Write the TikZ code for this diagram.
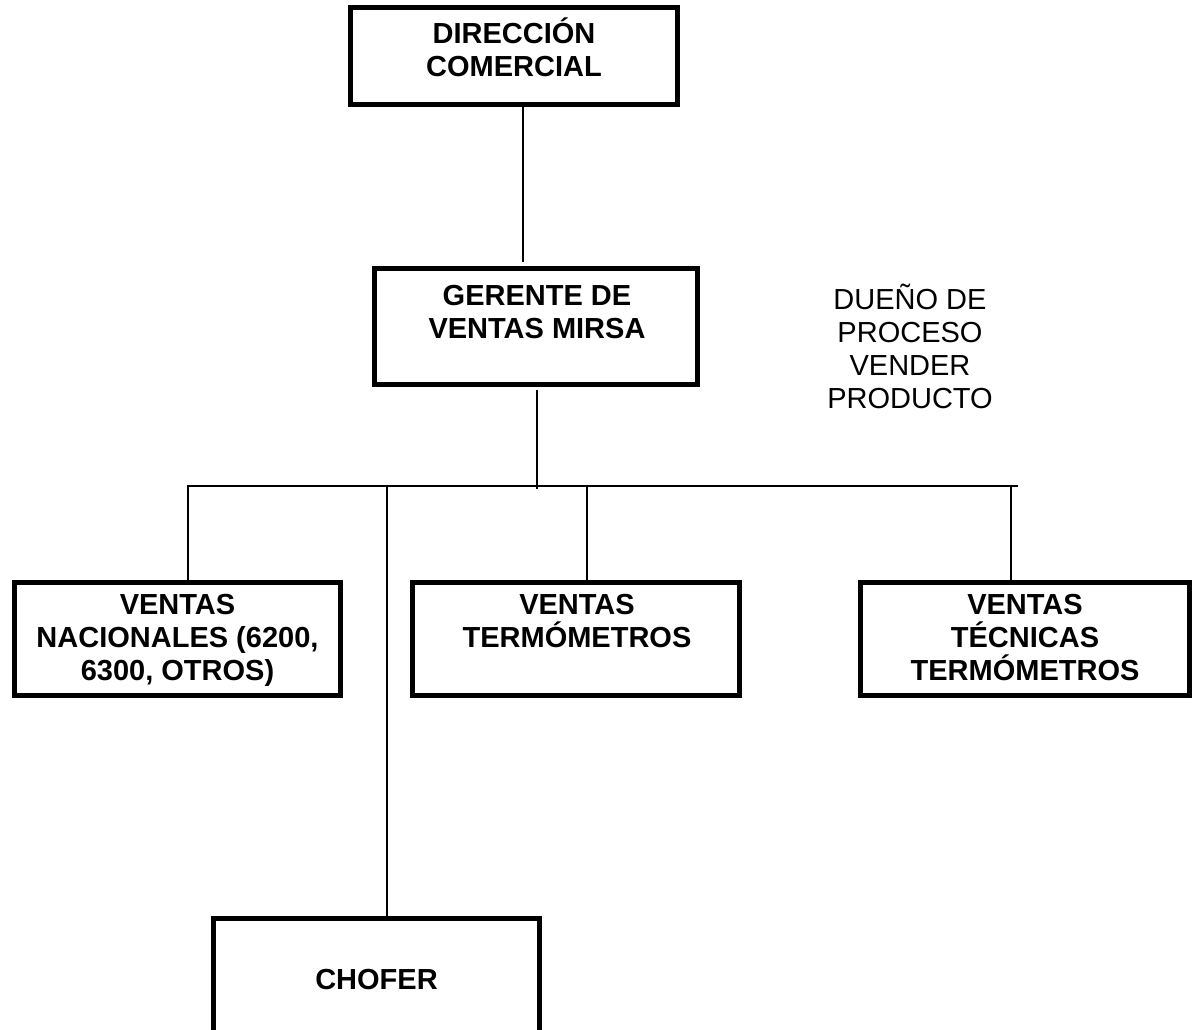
\documentclass[tikz,border=0pt]{standalone}
\usepackage{fontspec}
\setmainfont{Liberation Sans}
\begin{document}
\begin{tikzpicture}[x=1pt,y=-1pt,
  box/.style={draw=black,line width=5pt,fill=white,inner sep=0pt},
  title/.style={font=\fontsize{29}{33}\selectfont\bfseries,align=center,anchor=base,inner sep=0pt},
  note/.style={font=\fontsize{29}{33}\selectfont,align=center,anchor=base,inner sep=0pt},
  link/.style={draw=black,line width=1.6pt}]
\useasboundingbox (0,0) rectangle (1194,1029);

% boxes
\node[box,minimum width=327pt,minimum height=97pt]  (dir)  at (514,56) {};
\node[box,minimum width=323pt,minimum height=116pt] (ger)  at (536,326.5) {};
\node[box,minimum width=326pt,minimum height=113pt] (nac)  at (177.5,639) {};
\node[box,minimum width=327pt,minimum height=113pt] (term) at (576,639) {};
\node[box,minimum width=329pt,minimum height=113pt] (tec)  at (1025,639) {};
\node[box,minimum width=326pt,minimum height=120pt] (cho)  at (376.5,978) {};

% box captions (placed by the baseline of their last line)
\node[title] (dirT)  at (514,76)    {DIRECCIÓN\\COMERCIAL};
\node[title] (gerT)  at (537,338)   {GERENTE DE\\VENTAS MIRSA};
\node[title] (nacT)  at (177.5,680) {VENTAS\\NACIONALES (6200,\\6300, OTROS)};
\node[title] (termT) at (577,647)   {VENTAS\\TERMÓMETROS};
\node[title] (tecT)  at (1025,680)  {VENTAS\\TÉCNICAS\\TERMÓMETROS};
\node[title] (choT)  at (376.5,989) {CHOFER};

% side note
\node[note] (owner) at (910,408) {DUEÑO DE\\PROCESO\\VENDER\\PRODUCTO};

% connectors
\coordinate (busL) at (187,486);
\coordinate (busR) at (1018,486);
\coordinate (busM) at (537,489);
\coordinate (jA) at (188,486);
\coordinate (jB) at (387,486);
\coordinate (jC) at (587,486);
\coordinate (jD) at (1011,486);

\draw[link,shorten >=4pt] ([xshift=9pt]dir.south) -- ([xshift=-13pt]ger.north);
\draw[link,shorten <=3pt] ([xshift=1pt]ger.south) -- (busM);
\draw[link] (busL) -- (busR);
\draw[link] (jA) -- (jA |- nac.north);
\draw[link] (jB) -- (jB |- cho.north);
\draw[link] (jC) -- (jC |- term.north);
\draw[link] (jD) -- (jD |- tec.north);
\end{tikzpicture}
\end{document}
